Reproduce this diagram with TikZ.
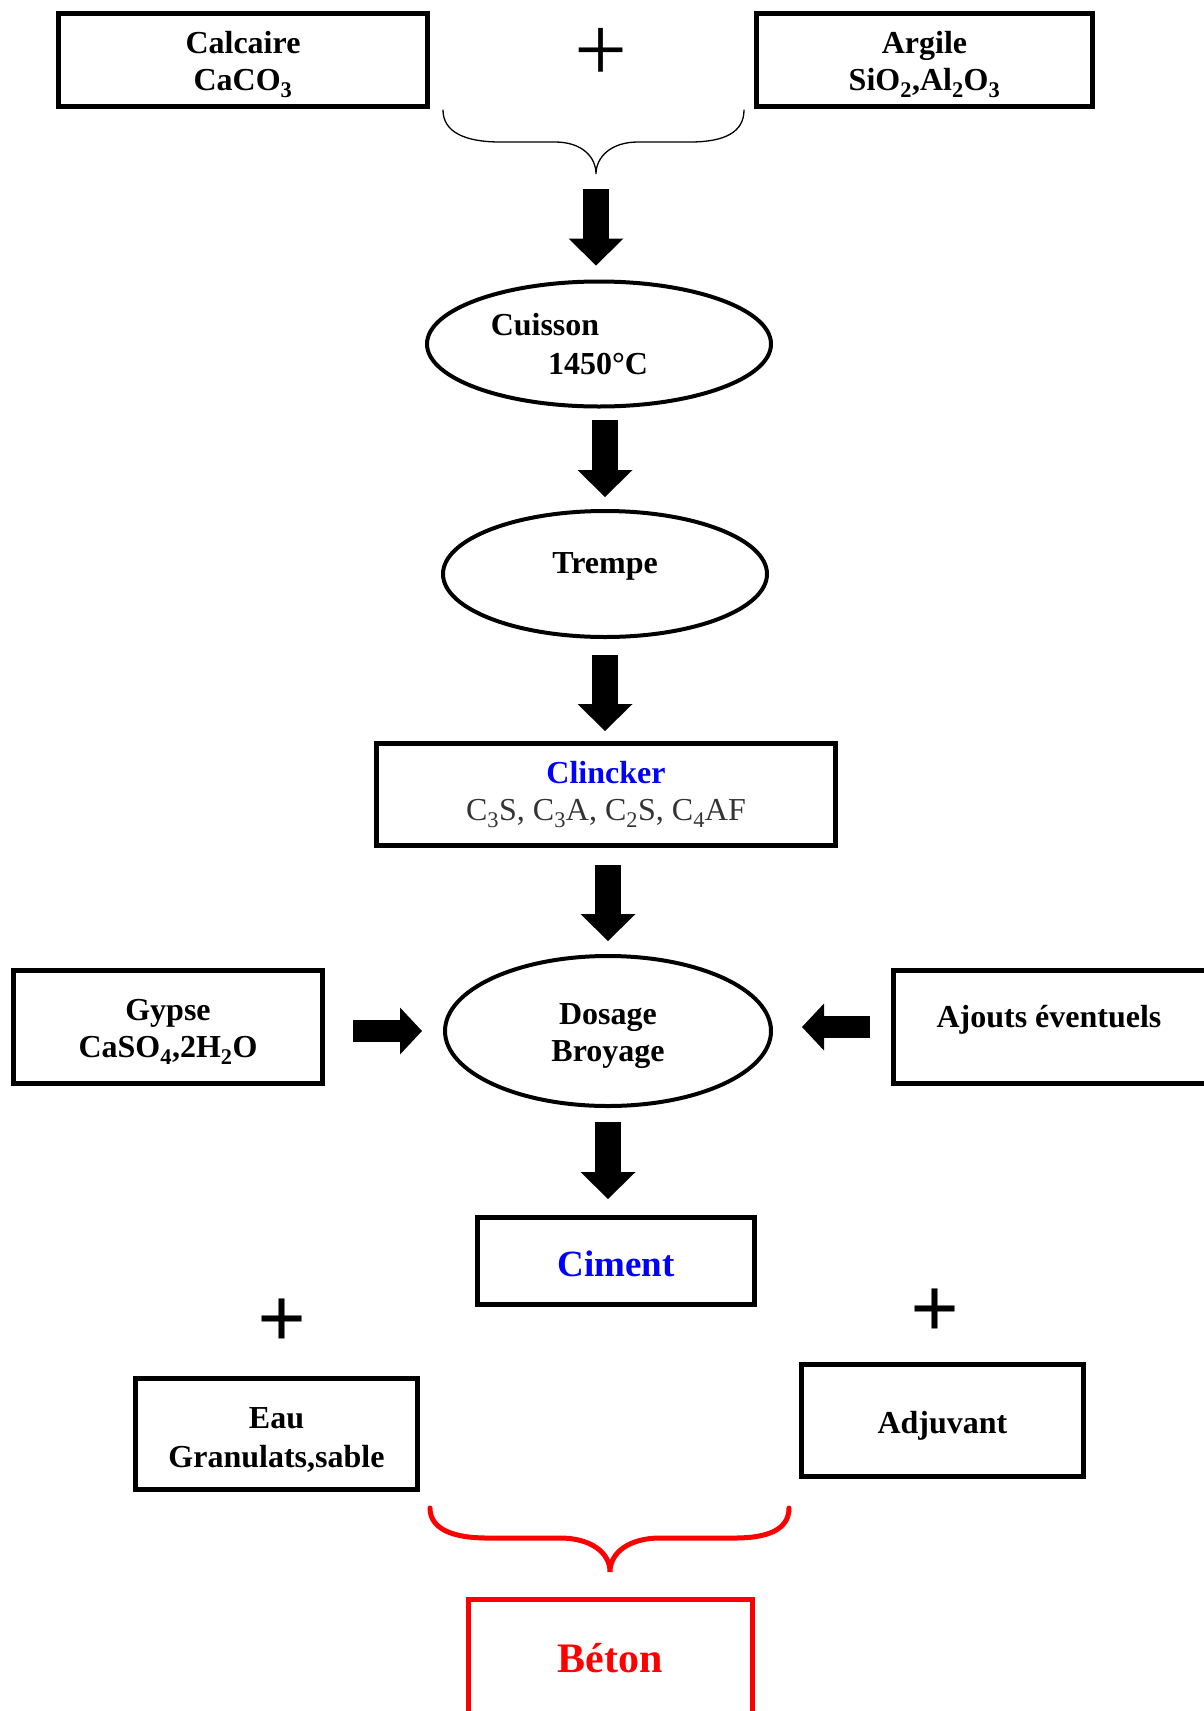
\documentclass[tikz,border=0pt]{standalone}
\usepackage{fontspec}
\setmainfont{Liberation Serif}
\usetikzlibrary{arrows.meta,shapes.geometric,calc}
\definecolor{wblue}{RGB}{0,0,255}
\definecolor{wred}{RGB}{255,0,0}
\definecolor{wgray}{RGB}{51,51,51}
\newcommand\mytxt{\fontsize{32}{37}\selectfont\bfseries}
\newcommand\topstrut{\rule{0pt}{31pt}}
\begin{document}
\begin{tikzpicture}[x=1pt,y=-1pt,
  box/.style={draw=black,line width=5pt,rectangle,inner sep=0pt,align=center,font=\mytxt},
  oval/.style={draw=black,line width=4pt,ellipse,inner sep=0pt,align=center,font=\mytxt},
  lbl/.style={inner sep=0pt,align=center,font=\mytxt},
  vfat/.style={line width=26pt,-{Triangle[length=27pt,width=55pt,line width=0pt]}},
  hfat/.style={line width=22pt,-{Triangle[length=22pt,width=47pt,line width=0pt]}},
  bracestyle/.style={line width=1.3pt,line cap=round},
  redbrace/.style={draw=wred,line width=5pt,line cap=round},
  plussign/.style={inner sep=0pt}]
\useasboundingbox (0,0) rectangle (1203,1711);

% top boxes
\node[box,minimum width=369pt,minimum height=93pt] (calcaire) at (243,60) {\topstrut Calcaire\\CaCO\textsubscript{3}};
\node[box,minimum width=336pt,minimum height=93pt] (argile) at (924.5,60) {\topstrut Argile\\SiO\textsubscript{2},Al\textsubscript{2}O\textsubscript{3}};
\node[plussign,font=\fontsize{94}{94}\selectfont] (plustop) at (601,55) {+};

% brace
\draw[bracestyle] (443,110) .. controls (443,132) and (465,142) .. (500,142) -- (555,142)
  .. controls (582,142) and (596,157) .. (596,174)
  .. controls (596,157) and (611,142) .. (638,142) -- (690,142)
  .. controls (725,142) and (744,132) .. (744,110);
\coordinate (brtip) at (596,175);

% ovals
\node[oval,minimum width=344pt,minimum height=125pt] (cuisson) at (599,344) {};
\node[lbl] (cuissonA) at (545,325) {Cuisson};
\node[lbl] (cuissonB) at (598,364) {1450°C};
\node[oval,minimum width=324pt,minimum height=126pt] (trempe) at (605,574) {};
\node[lbl] (trempeT) at (605,566.5) {Trempe};

\node[box,minimum width=459pt,minimum height=102pt] (clincker) at (606,794.5)
  {\textcolor{wblue}{Clincker}\\{\mdseries\color{wgray}C\textsubscript{3}S, C\textsubscript{3}A, C\textsubscript{2}S, C\textsubscript{4}AF}};

\node[oval,minimum width=326pt,minimum height=150pt] (dosage) at (608,1031) {\topstrut Dosage\\Broyage};
\node[box,minimum width=309pt,minimum height=113pt] (gypse) at (168,1027) {\topstrut Gypse\\CaSO\textsubscript{4},2H\textsubscript{2}O};
\node[box,minimum width=319pt,minimum height=113pt] (ajouts) at (1053,1027) {};
\node[lbl] (ajoutsT) at (1049,1019.5) {Ajouts éventuels};

\node[box,minimum width=277pt,minimum height=87pt,font=\fontsize{37}{42}\selectfont\bfseries,text=wblue] (ciment) at (616,1261) {\rule{0pt}{31pt}Ciment};

\node[plussign,font=\fontsize{86}{86}\selectfont\bfseries] (plusL) at (282,1323) {+};
\node[plussign,font=\fontsize{86}{86}\selectfont\bfseries] (plusR) at (934.5,1313) {+};

\node[box,minimum width=282pt,minimum height=111pt] (eau) at (276.5,1434) {\rule{0pt}{32pt}Eau\\[2pt]Granulats,sable};
\node[box,minimum width=282pt,minimum height=112pt] (adjuvant) at (942.5,1420.5) {};
\node[lbl] (adjuvantT) at (942.5,1426) {Adjuvant};

\draw[redbrace] (430,1508) .. controls (430,1530) and (455,1538) .. (487,1538) -- (560,1538)
  .. controls (590,1538) and (610,1552) .. (610,1572)
  .. controls (610,1552) and (630,1538) .. (660,1538) -- (735,1538)
  .. controls (767,1538) and (789,1530) .. (789,1508);

\node[box,draw=wred,minimum width=284pt,minimum height=125pt,font=\fontsize{42}{48}\selectfont\bfseries,text=wred] (beton) at (610,1662) {\rule[-8pt]{0pt}{8pt}Béton};

% fat arrows
\draw[vfat,shorten <=14pt,shorten >=14pt] (brtip) -- (brtip |- cuisson.north);
\draw[vfat,shorten <=11pt,shorten >=12pt] (trempe.north |- cuisson.south) -- (trempe.north);
\draw[vfat,shorten <=16pt,shorten >=10pt] (trempe.south) -- (trempe.south |- clincker.north);
\draw[vfat,shorten <=17pt,shorten >=13pt] (dosage.north |- clincker.south) -- (dosage.north);
\draw[vfat,shorten <=14pt,shorten >=16pt] (dosage.south) -- (dosage.south |- ciment.north);
\draw[hfat,shorten <=28pt,shorten >=21pt] (gypse.east |- dosage.west) -- (dosage.west);
\draw[hfat,shorten <=21pt,shorten >=29pt] (ajouts.west) -- (ajouts.west -| dosage.east);
\end{tikzpicture}
\end{document}
